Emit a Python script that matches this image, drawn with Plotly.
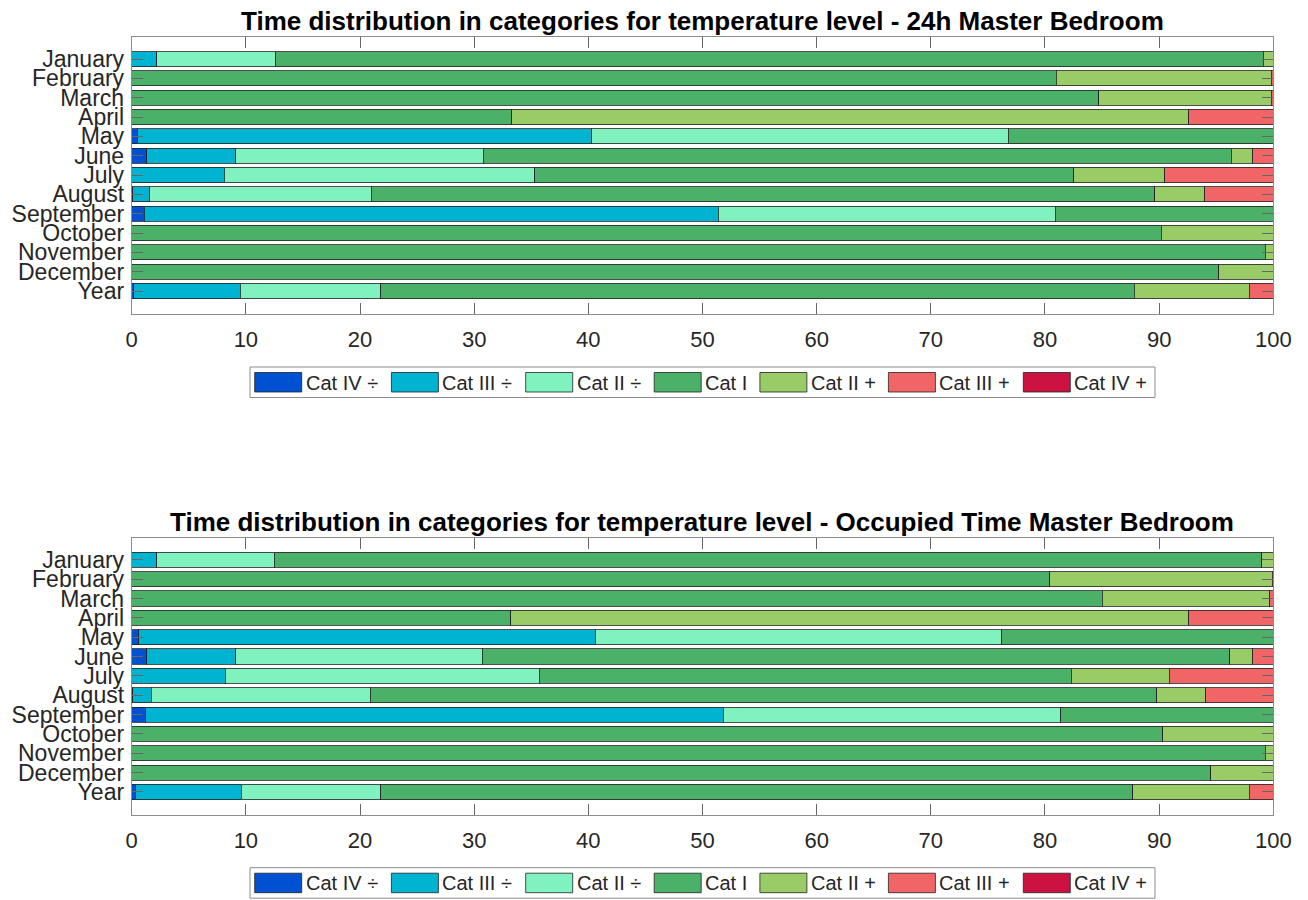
import plotly.graph_objects as go

# rows of each panel, top to bottom
months = ["January", "February", "March", "April", "May", "June", "July",
          "August", "September", "October", "November", "December", "Year"]

categories = ["Cat IV ÷", "Cat III ÷", "Cat II ÷", "Cat I", "Cat II +", "Cat III +", "Cat IV +"]
colors = ["#0051d2", "#00b3d1", "#80f2c0", "#4cb168", "#99cc66", "#f26566", "#cc1240"]

# share of time (%) per category - 24h
h24_cat4_minus = [0, 0, 0, 0, 0.5, 1.3, 0, 0.1, 1.1, 0, 0, 0, 0.2]
h24_cat3_minus = [2.2, 0, 0, 0, 39.8, 7.8, 8.1, 1.5, 50.3, 0, 0, 0, 9.3]
h24_cat2_minus = [10.4, 0, 0, 0, 36.5, 21.7, 27.2, 19.4, 29.5, 0, 0, 0, 12.3]
h24_cat1 = [86.5, 81.0, 84.7, 33.3, 23.2, 65.5, 47.2, 68.6, 19.1, 90.2, 99.3, 95.2, 66.0]
h24_cat2_plus = [0.9, 18.8, 15.1, 59.3, 0, 1.9, 8.0, 4.4, 0, 9.8, 0.7, 4.8, 10.1]
h24_cat3_plus = [0, 0.2, 0.2, 7.4, 0, 1.8, 9.5, 6.0, 0, 0, 0, 0, 2.1]
h24_cat4_plus = [0, 0, 0, 0, 0, 0, 0, 0, 0, 0, 0, 0, 0]

# share of time (%) per category - occupied time
occ_cat4_minus = [0, 0, 0, 0, 0.6, 1.3, 0, 0.1, 1.2, 0, 0, 0, 0.3]
occ_cat3_minus = [2.2, 0, 0, 0, 40.0, 7.8, 8.2, 1.6, 50.6, 0, 0, 0, 9.3]
occ_cat2_minus = [10.3, 0, 0, 0, 35.6, 21.6, 27.5, 19.2, 29.6, 0, 0, 0, 12.2]
occ_cat1 = [86.5, 80.4, 85.0, 33.2, 23.8, 65.5, 46.6, 68.9, 18.6, 90.3, 99.3, 94.5, 65.9]
occ_cat2_plus = [1.0, 19.5, 14.7, 59.4, 0, 2.0, 8.6, 4.3, 0, 9.7, 0.7, 5.5, 10.2]
occ_cat3_plus = [0, 0.1, 0.3, 7.4, 0, 1.8, 9.1, 5.9, 0, 0, 0, 0, 2.1]
occ_cat4_plus = [0, 0, 0, 0, 0, 0, 0, 0, 0, 0, 0, 0, 0]

x_ticks = [0, 10, 20, 30, 40, 50, 60, 70, 80, 90, 100]

title_24h = "Time distribution in categories for temperature level - 24h Master Bedroom"
title_occ = "Time distribution in categories for temperature level - Occupied Time Master Bedroom"

panels = [
    ([h24_cat4_minus, h24_cat3_minus, h24_cat2_minus, h24_cat1,
      h24_cat2_plus, h24_cat3_plus, h24_cat4_plus], "x", "y"),
    ([occ_cat4_minus, occ_cat3_minus, occ_cat2_minus, occ_cat1,
      occ_cat2_plus, occ_cat3_plus, occ_cat4_plus], "x2", "y2"),
]

# the page body adds an 8px margin in front of the figure
OFF = 8
W, H = 1308 - OFF, 900 - OFF
FONT = "Liberation Sans, Arial, sans-serif"
EDGE = "rgba(35,35,35,0.8)"


def px_x(px):
    return (px - OFF) / W


def px_y(py):
    return 1 - (py - OFF) / H


fig = go.Figure()
for series, xa, ya in panels:
    for name, vals, col in zip(categories, series, colors):
        fig.add_trace(go.Bar(
            y=months, x=vals, orientation="h", name=name,
            marker=dict(color=col, line=dict(color=EDGE, width=1)),
            width=0.78, showlegend=False, xaxis=xa, yaxis=ya,
        ))

# window-pixel layout of the two axes boxes
ax_left, ax_right = 131.7, 1273.3
boxes = [(37, 314), (537.7, 815)]


def xaxis_style(anchor):
    return dict(
        domain=[px_x(ax_left), px_x(ax_right)], range=[0, 100], anchor=anchor,
        tickvals=x_ticks, ticks="inside", ticklen=11, tickcolor="#666",
        showline=True, linecolor="#8c8c8c", linewidth=1, mirror="ticks",
        showgrid=False, zeroline=False, fixedrange=True, automargin=False,
        tickfont=dict(size=22, color="#262626", family=FONT),
        ticklabelstandoff=6,
    )


def yaxis_style(anchor, top, bottom):
    return dict(
        domain=[px_y(bottom), px_y(top)], anchor=anchor,
        type="category", categoryorder="array", categoryarray=months,
        tickmode="array", tickvals=months, ticktext=months,
        range=[12 + 1.19, -1.14], ticks="inside", ticklen=11, tickcolor="#666",
        showline=True, linecolor="#8c8c8c", linewidth=1, mirror="ticks",
        showgrid=False, zeroline=False, fixedrange=True, automargin=False,
        tickfont=dict(size=23, color="#262626", family=FONT),
        ticklabelstandoff=2,
    )


fig.update_layout(
    xaxis=xaxis_style("y"), yaxis=yaxis_style("x", *boxes[0]),
    xaxis2=xaxis_style("y2"), yaxis2=yaxis_style("x2", *boxes[1]),
)

# titles
for txt, (top, _) in zip([title_24h, title_occ], boxes):
    fig.add_annotation(
        text="<b>" + txt + "</b>", xref="paper", yref="paper",
        x=px_x((ax_left + ax_right) / 2), y=px_y(top - 16),
        xanchor="center", yanchor="middle", showarrow=False,
        font=dict(size=26, color="black", family=FONT),
    )

# MATLAB-style legend box under each panel
swatch_left = [254.7, 391.4, 525.7, 654.2, 759.9, 888.4, 1023.3]
for top, _ in boxes:
    y0 = top + 330
    fig.add_shape(type="rect", xref="paper", yref="paper",
                  x0=px_x(250), x1=px_x(1155), y0=px_y(y0 + 30.5), y1=px_y(y0),
                  line=dict(color="#8c8c8c", width=1), fillcolor="white")
    for name, col, sx in zip(categories, colors, swatch_left):
        fig.add_shape(type="rect", xref="paper", yref="paper",
                      x0=px_x(sx), x1=px_x(sx + 47),
                      y0=px_y(y0 + 25), y1=px_y(y0 + 5.5),
                      line=dict(color=EDGE, width=1), fillcolor=col)
        fig.add_annotation(
            text=name, xref="paper", yref="paper",
            x=px_x(sx + 49), y=px_y(y0 + 15.5),
            xanchor="left", yanchor="middle", showarrow=False,
            font=dict(size=20, color="#262626", family=FONT),
        )

fig.update_layout(
    width=W, height=H, barmode="stack",
    margin=dict(l=0, r=0, t=0, b=0),
    paper_bgcolor="white", plot_bgcolor="white",
    font=dict(family=FONT),
)

fig.write_html("out.html")
